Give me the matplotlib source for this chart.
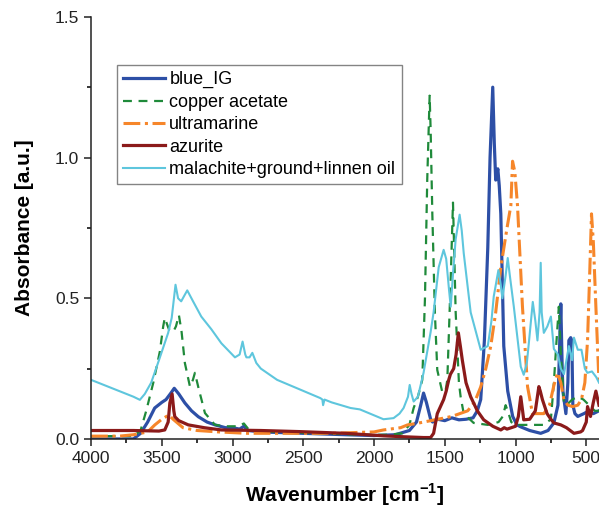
import matplotlib
matplotlib.use("Agg")
import matplotlib.pyplot as plt
from matplotlib.ticker import MultipleLocator

plt.rcParams['font.family'] = ['Liberation Sans', 'DejaVu Sans']
plt.rcParams['mathtext.fontset'] = 'custom'
plt.rcParams['mathtext.rm'] = 'Liberation Sans'
plt.rcParams['mathtext.bf'] = 'Liberation Sans:bold'

# spectra: (wavenumber cm-1, absorbance)
blue_ig = [(4000, 0.0), (3800, 0.0), (3700, 0.0), (3650, 0.02), (3600, 0.06), (3550, 0.11),
           (3500, 0.13), (3470, 0.14), (3440, 0.16), (3412, 0.18), (3380, 0.16), (3337, 0.128),
           (3290, 0.10), (3242, 0.079), (3180, 0.06), (3124, 0.05), (3050, 0.04), (3000, 0.04),
           (2950, 0.035), (2920, 0.045), (2890, 0.03), (2800, 0.025), (2500, 0.02), (2200, 0.015),
           (2000, 0.012), (1850, 0.015), (1750, 0.03), (1700, 0.06), (1670, 0.12), (1650, 0.163),
           (1630, 0.13), (1600, 0.07), (1586, 0.06), (1550, 0.07), (1500, 0.065), (1450, 0.075),
           (1400, 0.068), (1350, 0.07), (1300, 0.075), (1270, 0.10), (1246, 0.14), (1220, 0.35),
           (1196, 0.68), (1180, 1.0), (1161, 1.25), (1150, 1.05), (1140, 0.92), (1125, 0.96),
           (1115, 0.90), (1104, 0.80), (1083, 0.33), (1055, 0.17), (1020, 0.08), (990, 0.05),
           (963, 0.043), (900, 0.03), (822, 0.02), (770, 0.03), (729, 0.057), (700, 0.12),
           (690, 0.30), (680, 0.48), (670, 0.25), (665, 0.17), (644, 0.09), (630, 0.2),
           (623, 0.35), (610, 0.36), (602, 0.35), (595, 0.12), (580, 0.09), (560, 0.08),
           (517, 0.09), (480, 0.1), (450, 0.09), (410, 0.1)]

copper_acetate = [(4000, 0.01), (3800, 0.01), (3700, 0.01), (3650, 0.03), (3610, 0.10), (3560, 0.20),
                  (3514, 0.31), (3490, 0.40), (3479, 0.43), (3450, 0.39), (3420, 0.38), (3400, 0.40),
                  (3379, 0.44), (3360, 0.38), (3337, 0.27), (3301, 0.186), (3280, 0.21), (3266, 0.235),
                  (3240, 0.18), (3195, 0.092), (3124, 0.05), (3050, 0.045), (2960, 0.045), (2920, 0.055),
                  (2880, 0.03), (2700, 0.025), (2400, 0.02), (2100, 0.015), (1900, 0.015), (1800, 0.02),
                  (1750, 0.05), (1720, 0.11), (1690, 0.15), (1659, 0.21), (1640, 0.5), (1624, 0.92),
                  (1607, 1.22), (1600, 1.1), (1588, 0.80), (1570, 0.45), (1553, 0.245), (1517, 0.165),
                  (1495, 0.17), (1482, 0.21), (1458, 0.57), (1442, 0.84), (1435, 0.7), (1423, 0.45),
                  (1400, 0.2), (1388, 0.15), (1366, 0.09), (1296, 0.057), (1196, 0.05), (1120, 0.06),
                  (1090, 0.08), (1070, 0.12), (1055, 0.10), (1030, 0.06), (1000, 0.05), (900, 0.05),
                  (800, 0.05), (750, 0.07), (729, 0.2), (710, 0.35), (694, 0.47), (680, 0.3),
                  (658, 0.13), (640, 0.12), (600, 0.14), (560, 0.15), (520, 0.14), (480, 0.12),
                  (440, 0.1), (410, 0.1)]

ultramarine = [(4000, 0.01), (3800, 0.01), (3700, 0.015), (3600, 0.025), (3549, 0.05), (3500, 0.07),
               (3450, 0.085), (3420, 0.07), (3350, 0.04), (3250, 0.03), (3100, 0.025), (2900, 0.02),
               (2600, 0.02), (2300, 0.02), (2000, 0.025), (1933, 0.032), (1812, 0.04), (1763, 0.05),
               (1700, 0.055), (1579, 0.067), (1450, 0.08), (1338, 0.10), (1290, 0.13), (1246, 0.185),
               (1210, 0.25), (1175, 0.33), (1140, 0.45), (1104, 0.61), (1060, 0.75), (1033, 0.83),
               (1021, 0.987), (1005, 0.95), (986, 0.83), (951, 0.47), (915, 0.186), (880, 0.09),
               (840, 0.09), (800, 0.09), (760, 0.12), (729, 0.19), (703, 0.235), (680, 0.2),
               (658, 0.14), (630, 0.12), (596, 0.115), (560, 0.12), (534, 0.14), (510, 0.2),
               (491, 0.35), (475, 0.6), (463, 0.80), (450, 0.7), (432, 0.47), (410, 0.2)]

azurite = [(4000, 0.03), (3700, 0.03), (3520, 0.028), (3479, 0.032), (3455, 0.06), (3443, 0.128),
           (3427, 0.16), (3415, 0.10), (3408, 0.079), (3380, 0.065), (3313, 0.05), (3200, 0.04),
           (3079, 0.032), (2800, 0.03), (2520, 0.026), (2200, 0.02), (1933, 0.011), (1800, 0.008),
           (1650, 0.005), (1600, 0.005), (1579, 0.02), (1553, 0.09), (1508, 0.14), (1490, 0.17),
           (1472, 0.21), (1460, 0.23), (1437, 0.25), (1420, 0.30), (1404, 0.377), (1390, 0.33),
           (1376, 0.28), (1350, 0.2), (1317, 0.15), (1270, 0.1), (1225, 0.068), (1160, 0.045),
           (1104, 0.032), (1080, 0.04), (1060, 0.035), (1000, 0.045), (980, 0.08), (963, 0.15),
           (950, 0.10), (942, 0.068), (900, 0.07), (860, 0.1), (835, 0.186), (825, 0.17),
           (810, 0.14), (777, 0.09), (750, 0.07), (729, 0.057), (680, 0.05), (640, 0.04),
           (587, 0.02), (540, 0.025), (526, 0.03), (500, 0.06), (491, 0.115), (470, 0.08),
           (450, 0.13), (432, 0.17), (410, 0.12)]

malachite = [(4000, 0.21), (3900, 0.19), (3800, 0.17), (3700, 0.15), (3655, 0.139), (3620, 0.16),
             (3575, 0.2), (3520, 0.28), (3455, 0.377), (3430, 0.43), (3403, 0.548), (3385, 0.50),
             (3363, 0.489), (3340, 0.51), (3320, 0.528), (3280, 0.49), (3221, 0.435), (3150, 0.39),
             (3079, 0.34), (2983, 0.29), (2950, 0.30), (2929, 0.346), (2910, 0.30), (2902, 0.29),
             (2880, 0.29), (2860, 0.306), (2832, 0.27), (2800, 0.25), (2685, 0.21), (2520, 0.175),
             (2379, 0.145), (2365, 0.14), (2360, 0.12), (2350, 0.14), (2300, 0.13), (2166, 0.11),
             (2100, 0.105), (1933, 0.07), (1862, 0.074), (1820, 0.09), (1791, 0.11), (1760, 0.15),
             (1748, 0.192), (1735, 0.16), (1720, 0.133), (1690, 0.15), (1650, 0.235), (1600, 0.38),
             (1579, 0.45), (1543, 0.61), (1508, 0.672), (1490, 0.64), (1470, 0.53), (1458, 0.47),
             (1440, 0.6), (1423, 0.71), (1395, 0.797), (1380, 0.74), (1366, 0.66), (1317, 0.45),
             (1246, 0.317), (1196, 0.33), (1170, 0.42), (1154, 0.506), (1121, 0.60), (1105, 0.55),
             (1093, 0.5), (1070, 0.58), (1055, 0.643), (1040, 0.58), (1012, 0.47), (963, 0.257),
             (942, 0.228), (920, 0.27), (906, 0.34), (878, 0.487), (860, 0.42), (845, 0.35),
             (830, 0.45), (822, 0.626), (815, 0.45), (800, 0.377), (775, 0.40), (750, 0.435),
             (729, 0.32), (700, 0.30), (680, 0.25), (658, 0.23), (640, 0.28), (623, 0.33),
             (600, 0.28), (587, 0.36), (560, 0.317), (534, 0.317), (510, 0.25), (492, 0.235),
             (460, 0.24), (430, 0.22), (410, 0.2)]

series = [
    ("blue_IG", blue_ig, dict(color="#2d4fa6", lw=2.3, ls="-")),
    ("copper acetate", copper_acetate, dict(color="#1f8a3a", lw=1.6, ls=(0, (4, 3)))),
    ("ultramarine", ultramarine, dict(color="#f6862a", lw=2.2, ls=(0, (5.5, 1.5, 1, 1.5)))),
    ("azurite", azurite, dict(color="#8b1a1a", lw=2.3, ls="-")),
    ("malachite+ground+linnen oil", malachite, dict(color="#5ec6dd", lw=1.5, ls="-")),
]

fig = plt.figure(figsize=(5.99, 5.11), dpi=100)
ax = fig.add_axes([0.152, 0.141, 0.848, 0.826])

for name, pts, style in series:
    wn, ab = zip(*pts)
    ax.plot(wn, ab, label=name, **style)

ax.set_xlim(4000, 410)
ax.set_ylim(0, 1.5)
ax.xaxis.set_major_locator(MultipleLocator(500))
ax.xaxis.set_minor_locator(MultipleLocator(250))
ax.yaxis.set_major_locator(MultipleLocator(0.5))
ax.yaxis.set_minor_locator(MultipleLocator(0.25))
ax.yaxis.set_major_formatter(matplotlib.ticker.FormatStrFormatter('%.1f'))
ax.tick_params(which='major', direction='out', length=5, width=1.1, labelsize=12.5, colors='#222')
ax.tick_params(which='minor', direction='out', length=3, width=1.1)
for s in ['top', 'right']:
    ax.spines[s].set_visible(False)
for s in ['left', 'bottom']:
    ax.spines[s].set_linewidth(1.1)
    ax.spines[s].set_color('#222')

ax.set_xlabel(r"Wavenumber [cm$^{\mathbf{-1}}$]", fontsize=15, fontweight='bold', labelpad=11)
ax.set_ylabel("Absorbance [a.u.]", fontsize=15, fontweight='bold', labelpad=15)

leg = ax.legend(loc='upper left', bbox_to_anchor=(0.051, 0.886), borderaxespad=0,
                fontsize=13, frameon=True, fancybox=False, handlelength=2.3,
                handletextpad=0.25, labelspacing=0.3, borderpad=0.35)
leg.get_frame().set_edgecolor('#666')
leg.get_frame().set_linewidth(1.0)

fig.savefig("out.png", dpi=100)
